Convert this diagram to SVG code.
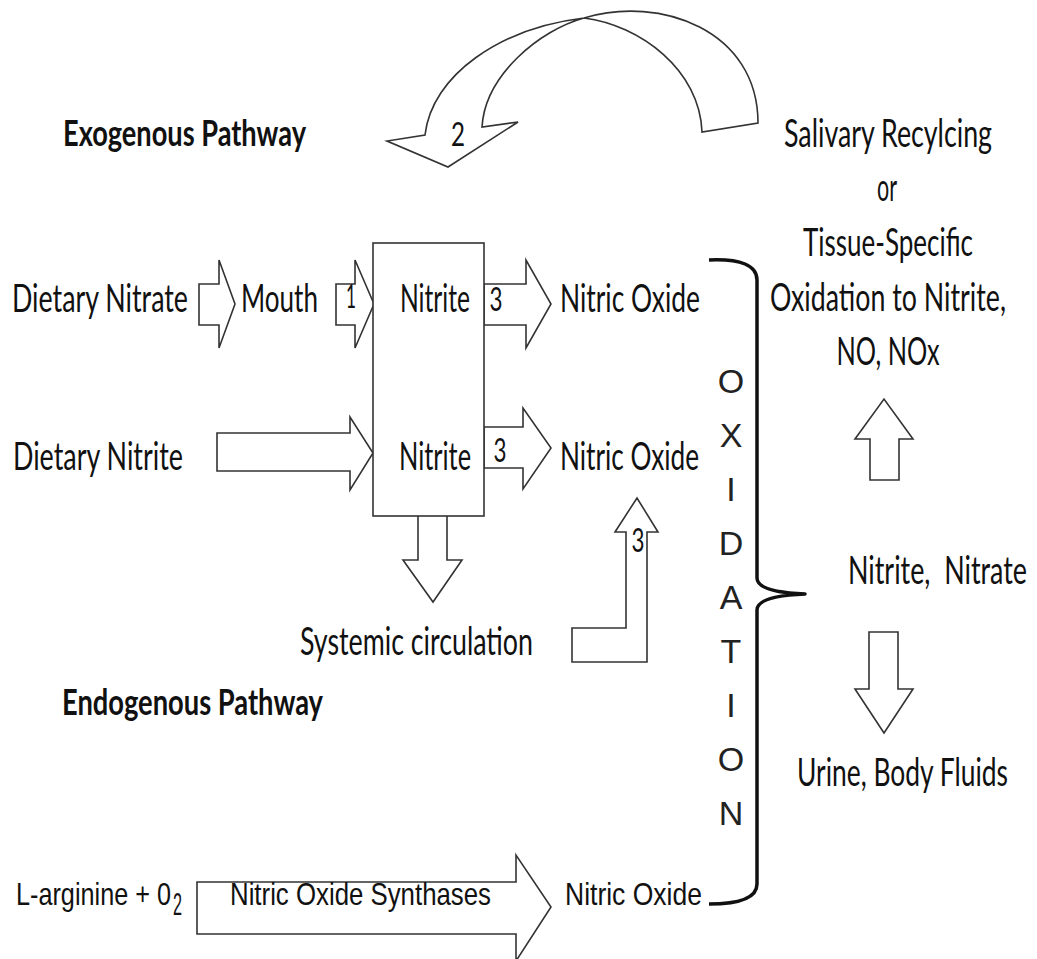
<svg xmlns="http://www.w3.org/2000/svg" width="1037" height="959" viewBox="0 0 1037 959">
<style>
.t{font-family:Lato,"Open Sans","Liberation Sans",sans-serif;font-size:38px;fill:#111;white-space:pre}
.b{font-family:Lato,"Open Sans","Liberation Sans",sans-serif;font-size:37px;font-weight:bold;fill:#111}
.n{font-family:"Liberation Sans Narrow","Liberation Sans",sans-serif;font-size:32px;fill:#111}
.o{font-family:"Liberation Sans","DejaVu Sans",sans-serif;font-size:34px;fill:#222;text-anchor:middle}
.num{font-family:Lato,"Liberation Sans",sans-serif;font-size:33px;fill:#111;text-anchor:middle}
.ar{fill:#fff;stroke:#333;stroke-width:1.6;stroke-linejoin:miter}
.box{fill:#fff;stroke:#333;stroke-width:1.6}
.br{fill:none;stroke:#111;stroke-width:3.5;stroke-linejoin:round}
</style>
<rect width="1037" height="959" fill="#fff"/>

<g id="connectors">
<path class="ar" d="M425,135 C432,75 500,28 584,18 C640,25 700,70 702,132 L758,123 C758,30 660,-5 584,18 C540,30 485,75 482,127 L518,122 L448,167 L387,141 Z"/>
<polygon class="ar" points="199,284 219,284 219,260 235,304 219,348 219,325 199,325"/>
<polygon class="ar" points="336,284 355,284 355,260 374,304 355,348 355,325 336,325"/>
<polygon class="ar" points="484,284 526,284 526,260 551,304 526,348 526,325 484,325"/>
<polygon class="ar" points="217,433 350,433 350,417 373,453 350,490 350,471 217,471"/>
<polygon class="ar" points="484,427 523,427 523,408 551,448 523,489 523,468 484,468"/>
<polygon class="ar" points="418,515 447,515 447,560 462,560 433,602 403,560 418,560"/>
<polygon class="ar" points="572,628 626,628 626,532 615,532 637,498 658,532 647,532 647,662 572,662"/>
<polygon class="ar" points="870,480 870,439 855,439 884,399 913,439 899,439 899,480"/>
<polygon class="ar" points="869,632 898,632 898,689 913,689 884,733 855,689 869,689"/>
<polygon class="ar" points="197,882 516,882 516,855 551,907 516,961 516,934 197,934"/>
<path class="br" d="M709,260 Q757,258 757,280 L757,578 Q757,592 805,594 Q757,596 757,610 L757,884 Q757,904 709,904"/>
<text class="num" x="458" y="146" textLength="14" lengthAdjust="spacingAndGlyphs">2</text>
<text class="num" x="351" y="308" font-size="30" textLength="10" lengthAdjust="spacingAndGlyphs">1</text>
<text class="num" x="496" y="311" textLength="13" lengthAdjust="spacingAndGlyphs">3</text>
<text class="num" x="500" y="462" textLength="13" lengthAdjust="spacingAndGlyphs">3</text>
<text class="num" x="638" y="552" textLength="13" lengthAdjust="spacingAndGlyphs">3</text>
<text class="n" x="230" y="905" textLength="261" lengthAdjust="spacingAndGlyphs">Nitric Oxide Synthases</text>
</g>

<g id="box-nitrite">
<rect class="box" x="373" y="243" width="111" height="273"/>
<text class="t" x="400" y="312" textLength="70" lengthAdjust="spacingAndGlyphs">Nitrite</text>
<text class="t" x="399" y="470" textLength="72" lengthAdjust="spacingAndGlyphs">Nitrite</text>
</g>

<g id="titles">
<text class="b" x="63" y="146" textLength="243" lengthAdjust="spacingAndGlyphs">Exogenous Pathway</text>
<text class="b" x="62" y="715" textLength="261" lengthAdjust="spacingAndGlyphs">Endogenous Pathway</text>
</g>

<g id="dietary-nitrate"><text class="t" x="12" y="312" textLength="176" lengthAdjust="spacingAndGlyphs">Dietary Nitrate</text></g>
<g id="mouth"><text class="t" x="241" y="312" textLength="77" lengthAdjust="spacingAndGlyphs">Mouth</text></g>
<g id="nitric-oxide-1"><text class="t" x="560" y="312" textLength="140" lengthAdjust="spacingAndGlyphs">Nitric Oxide</text></g>
<g id="dietary-nitrite"><text class="t" x="13" y="470" textLength="170" lengthAdjust="spacingAndGlyphs">Dietary Nitrite</text></g>
<g id="nitric-oxide-2"><text class="t" x="560" y="470" textLength="139" lengthAdjust="spacingAndGlyphs">Nitric Oxide</text></g>
<g id="systemic"><text class="t" x="300" y="655" textLength="233" lengthAdjust="spacingAndGlyphs">Systemic circulation</text></g>

<g id="salivary">
<text class="t" x="888" y="147" text-anchor="middle" textLength="208" lengthAdjust="spacingAndGlyphs">Salivary Recylcing</text>
<text class="t" x="887" y="201" text-anchor="middle" textLength="20" lengthAdjust="spacingAndGlyphs">or</text>
<text class="t" x="888" y="256" text-anchor="middle" textLength="170" lengthAdjust="spacingAndGlyphs">Tissue-Specific</text>
<text class="t" x="888" y="311" text-anchor="middle" textLength="236" lengthAdjust="spacingAndGlyphs">Oxidation to Nitrite,</text>
<text class="t" x="888" y="365" text-anchor="middle" textLength="103" lengthAdjust="spacingAndGlyphs">NO, NOx</text>
</g>

<g id="oxidation">
<text class="o" x="731" y="393">O</text>
<text class="o" x="731" y="447">X</text>
<text class="o" x="731" y="501">I</text>
<text class="o" x="731" y="555">D</text>
<text class="o" x="731" y="609">A</text>
<text class="o" x="731" y="663">T</text>
<text class="o" x="731" y="717">I</text>
<text class="o" x="731" y="771">O</text>
<text class="o" x="731" y="825">N</text>
</g>

<g id="nitrite-nitrate"><text class="t" x="848" y="584" textLength="179" lengthAdjust="spacingAndGlyphs">Nitrite,  Nitrate</text></g>
<g id="urine"><text class="t" x="797" y="786" textLength="211" lengthAdjust="spacingAndGlyphs">Urine, Body Fluids</text></g>

<g id="l-arginine">
<text class="n" x="16" y="905" textLength="155" lengthAdjust="spacingAndGlyphs">L-arginine + 0</text>
<text class="n" x="173" y="915" font-size="22" textLength="9" lengthAdjust="spacingAndGlyphs">2</text>
</g>
<g id="nitric-oxide-3"><text class="n" x="565" y="905" textLength="137" lengthAdjust="spacingAndGlyphs">Nitric Oxide</text></g>
</svg>
